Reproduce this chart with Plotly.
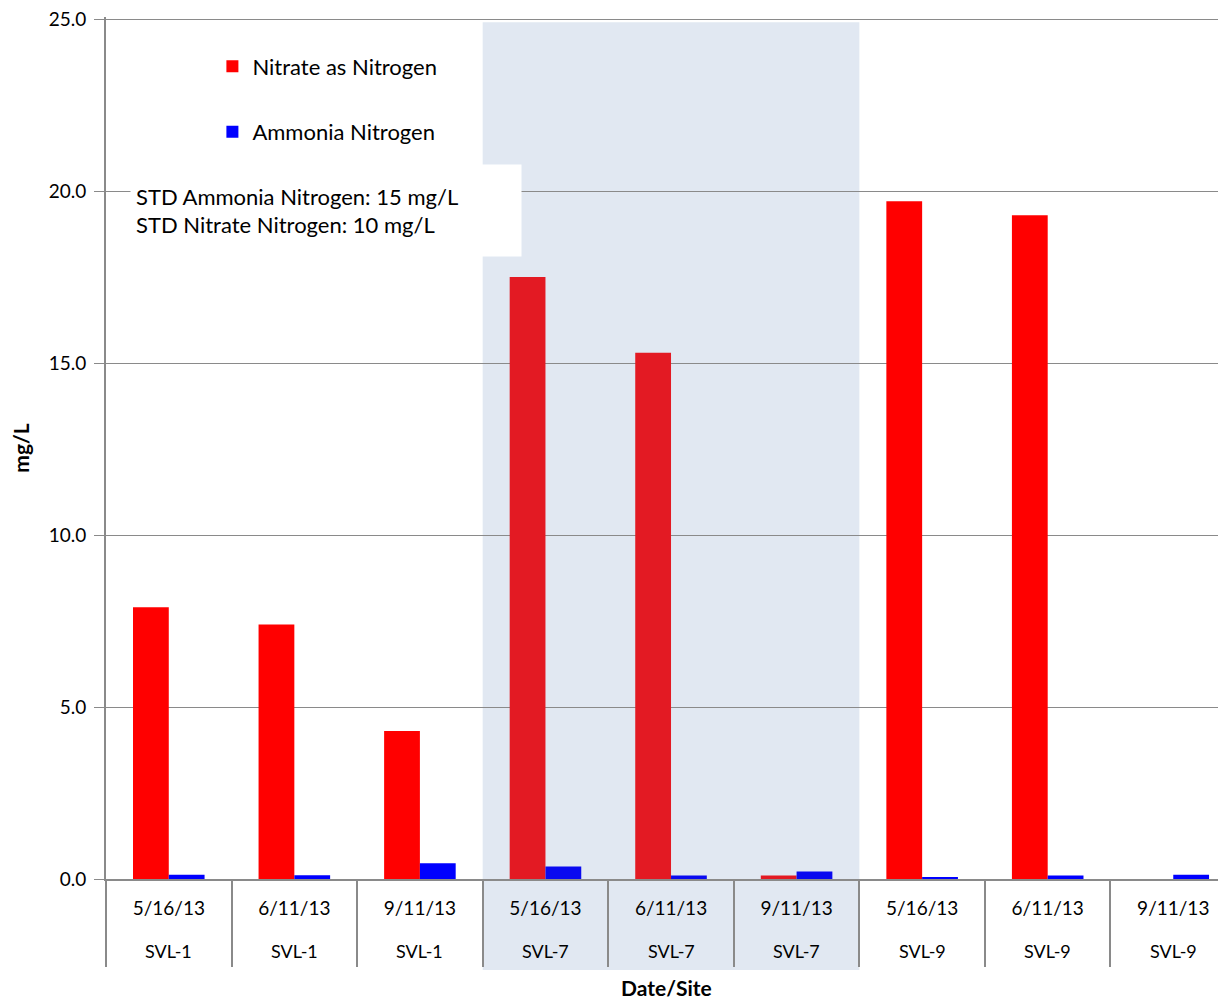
import plotly.graph_objects as go

# data
sites = ["SVL-1", "SVL-1", "SVL-1", "SVL-7", "SVL-7", "SVL-7", "SVL-9", "SVL-9", "SVL-9"]
dates = ["5/16/13", "6/11/13", "9/11/13", "5/16/13", "6/11/13", "9/11/13", "5/16/13", "6/11/13", "9/11/13"]
nitrate = [7.9, 7.4, 4.3, 17.5, 15.3, 0.1, 19.7, 19.3, 0.0]
ammonia = [0.12, 0.11, 0.46, 0.36, 0.10, 0.22, 0.04, 0.10, 0.12]
std_text = ["STD Ammonia Nitrogen: 15 mg/L", "STD Nitrate Nitrogen: 10 mg/L"]

FONT = "Lato"
GRID = "#8a8a8a"
# one unique category per date/site pair
cats = [d + " " + s for d, s in zip(dates, sites)]

# bars inside the shaded SVL-7 block look a touch darker
red = ["#E31A23" if s == "SVL-7" else "#FF0000" for s in sites]
blue = ["#0A0AF0" if s == "SVL-7" else "#0000FF" for s in sites]

fig = go.Figure()
fig.add_trace(go.Bar(x=cats, y=nitrate, name="Nitrate as Nitrogen", marker_color=red,
                     marker_line_width=0, legendgroup="a"))
fig.add_trace(go.Bar(x=cats, y=ammonia, name="Ammonia Nitrogen", marker_color=blue,
                     marker_line_width=0, legendgroup="b"))

# shaded band behind SVL-7
sv7 = [i for i, s in enumerate(sites) if s == "SVL-7"]
fig.add_shape(type="rect", xref="x", yref="paper", x0=min(sv7) - 0.5, x1=max(sv7) + 0.5,
              y0=-0.1056, y1=0.994, fillcolor="#E1E8F2", line_width=0, layer="below")

# site labels under the dates
for c, s in zip(cats, sites):
    fig.add_annotation(x=c, y=0, xref="x", yref="paper", yanchor="middle", yshift=-72,
                       text=s, showarrow=False, font=dict(family=FONT, size=18, color="#000"))

# standards box
fig.add_annotation(xref="paper", yref="paper", x=0.0214, y=0.776, xanchor="left", yanchor="middle",
                   text="<br>".join(std_text), align="left", showarrow=False, bgcolor="white",
                   width=380, height=81, borderpad=5, font=dict(family=FONT, size=22, color="#000"))

fig.add_annotation(xref="paper", yref="paper", x=0.5, y=0, yanchor="middle", yshift=-108,
                   text="<b>Date/Site</b>", showarrow=False, font=dict(family=FONT, size=21, color="#000"))

# page has an 8px body margin, so the figure is trimmed by that much
fig.update_layout(
    width=1218, height=995,
    margin=dict(l=98, r=0, t=9, b=124),
    paper_bgcolor="white", plot_bgcolor="rgba(0,0,0,0)",
    barmode="group", bargap=0.43, bargroupgap=0,
    font=dict(family=FONT, size=18, color="#000"),
    legend=dict(x=0.095, y=0.967, xanchor="left", yanchor="top", bgcolor="rgba(0,0,0,0)",
                tracegroupgap=34, traceorder="grouped", font=dict(family=FONT, size=22)),
    xaxis=dict(type="category", categoryorder="array", categoryarray=cats, range=[-0.5, 8.42],
               tickmode="array", tickvals=cats, ticktext=dates, automargin=False,
               tickson="boundaries", ticks="outside", ticklen=86, tickcolor=GRID, tickwidth=2,
               ticklabelstandoff=11, showline=True, linecolor=GRID, linewidth=2,
               showgrid=False, tickfont=dict(family=FONT, size=19)),
    yaxis=dict(range=[0, 25.06], tickmode="array", tickvals=[0, 5, 10, 15, 20, 25], tickformat=".1f",
               showgrid=True, gridcolor=GRID, gridwidth=1, ticklabelstandoff=4, ticklabeloverflow="allow",
               ticks="outside", ticklen=10, tickcolor=GRID, showline=True, linecolor=GRID, linewidth=2,
               zeroline=False, tickfont=dict(family=FONT, size=19), automargin=False,
               title=dict(text="<b>mg/L</b>", standoff=22, font=dict(family=FONT, size=21))),
)

fig.write_html("out.html")
